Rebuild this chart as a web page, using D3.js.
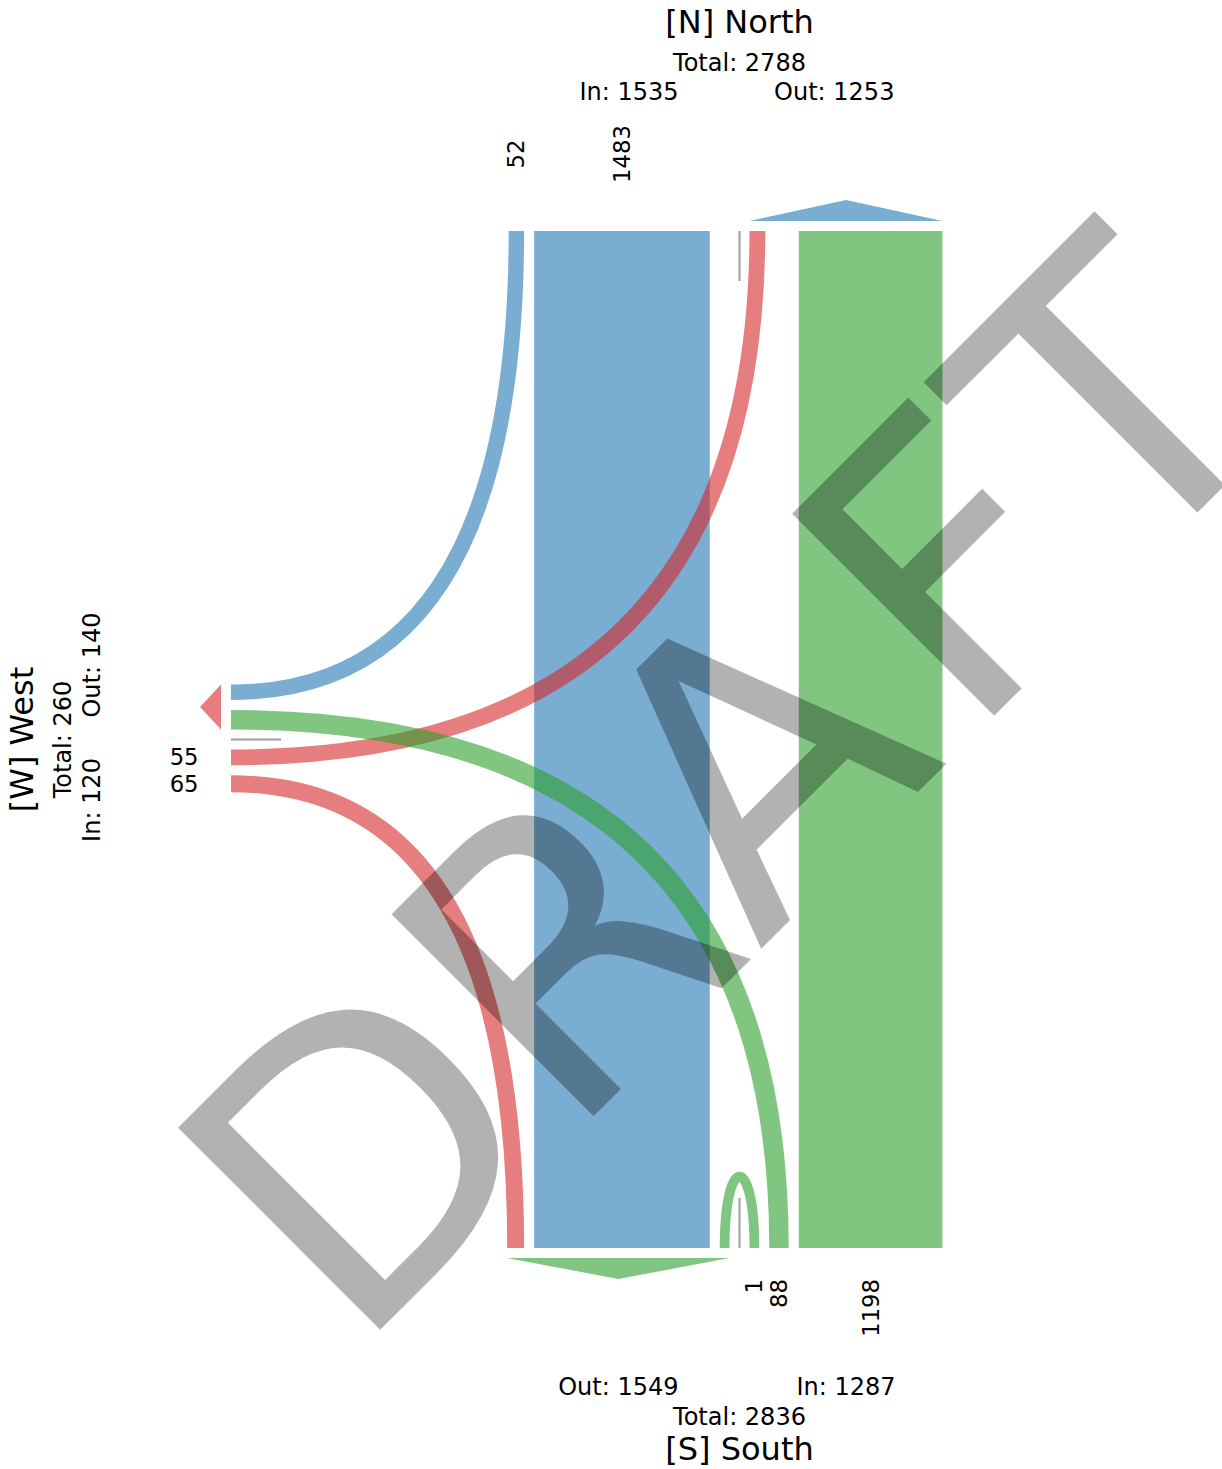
<!DOCTYPE html>
<html>
<head>
<meta charset="utf-8">
<script src="https://cdn.jsdelivr.net/npm/d3@7"></script>
<style>
  html, body { margin: 0; padding: 0; background: #fff; }
  svg { display: block; font-family: "DejaVu Sans", sans-serif; }
  .watermark { font-kerning: none; }
</style>
</head>
<body>
<svg id="chart" width="1222" height="1469"></svg>
<script>
// ---- nodes ----
const nodeCodes  = ["N", "W", "S"];
const nodeNames  = ["North", "West", "South"];
const nodeColors = ["#1f77b4", "#d62728", "#2ca02c"];

// ---- flows (source -> target, value) ----
const flowSource = ["W", "S", "N", "N", "N", "W", "W", "S", "S"];
const flowTarget = ["N", "N", "N", "W", "S", "S", "W", "W", "S"];
const flowValue  = [52, 1483, 0, 55, 1198, 88, 0, 65, 1];

// ---- geometry ----
const svg = d3.select("#chart");
const ring = ["N", "E", "S", "W"];                 // clockwise order of sides
const frame = d3.scaleLinear().domain([0, 1]).range([231, 1248]);
const lo = frame(0), hi = frame(1), mid = frame(0.5);
const gap = 10;
const band = d3.scaleLinear().domain([0, d3.max(flowValue)]).range([9.65, 175.6]);

const sides = {
  N: { axis: "x", edge: lo, out: -1, inDir: -1, outDir: +1 },
  S: { axis: "x", edge: hi, out: +1, inDir: +1, outDir: -1 },
  W: { axis: "y", edge: lo, out: -1, inDir: +1, outDir: -1 }
};
const colorOf = c => nodeColors[nodeCodes.indexOf(c)];
const opposite = (a, b) => (ring.indexOf(a) + 2) % 4 === ring.indexOf(b);

const flows = flowValue.map((v, i) => ({
  id: i, s: flowSource[i], t: flowTarget[i], v, w: band(v)
}));
const active = flows.filter(f => f.v > 0);

// slot order on each half side: self first, then others going round the ring
function rotated(code, step) {
  const k = ring.indexOf(code);
  return d3.range(1, 4).map(j => ring[(k + step * j + 4) % 4]);
}
const inHalf = {}, outHalf = {};
nodeCodes.forEach(n => {
  const inSlots = [n, ...rotated(n, +1)]
    .map(src => active.find(f => f.s === src && f.t === n)).filter(Boolean);
  const outSlots = [n, ...rotated(n, -1)]
    .map(tgt => active.find(f => f.s === n && f.t === tgt)).filter(Boolean);
  inHalf[n]  = { node: n, dir: sides[n].inDir,  slots: inSlots };
  outHalf[n] = { node: n, dir: sides[n].outDir, slots: outSlots };
});
const halves = nodeCodes.flatMap(n => [inHalf[n], outHalf[n]]);

function pack(half, minOff) {
  let c = gap;
  half.pos = new Map();
  half.slots.forEach(f => {
    const st = Math.max(c, minOff.get(f.id) || 0);
    half.pos.set(f.id, [st, st + f.w]);
    c = st + f.w + gap;
  });
}
const toRange = (half, id) => {
  const [a, b] = half.pos.get(id);
  const c1 = mid + half.dir * a, c2 = mid + half.dir * b;
  return [Math.min(c1, c2), Math.max(c1, c2)];
};
const extent = half => {
  const r = half.slots.map(f => toRange(half, f.id)).flat();
  return [d3.min(r), d3.max(r)];
};

// natural packing, used for the In / Out captions
const minOff = new Map();
halves.forEach(h => pack(h, minOff));
const naturalExt = new Map(halves.map(h => [h, extent(h)]));

// straight-across flows keep the same coordinate at both ends
for (let k = 0; k < 4; k++) {
  active.forEach(f => {
    if (f.s !== f.t && opposite(f.s, f.t)) {
      const a = outHalf[f.s].pos.get(f.id)[0], b = inHalf[f.t].pos.get(f.id)[0];
      minOff.set(f.id, Math.max(a, b));
    }
  });
  halves.forEach(h => pack(h, minOff));
}

const pt = (code, c) => sides[code].axis === "x" ? [c, sides[code].edge] : [sides[code].edge, c];

// ---- ribbons ----
function ribbonPath(f) {
  const ra = toRange(outHalf[f.s], f.id), rb = toRange(inHalf[f.t], f.id);
  const A = sides[f.s], B = sides[f.t];
  const p = d3.path();
  if (opposite(f.s, f.t)) {
    const ya = A.edge, yb = B.edge, ym = (ya + yb) / 2;
    p.moveTo(ra[0], ya);
    p.bezierCurveTo(ra[0], ym, rb[0], ym, rb[0], yb);
    p.lineTo(rb[1], yb);
    p.bezierCurveTo(rb[1], ym, ra[1], ym, ra[1], ya);
    p.closePath();
    return p.toString();
  }
  const hSide = A.axis === "x" ? f.s : f.t, vSide = A.axis === "x" ? f.t : f.s;
  const hr = hSide === f.s ? ra : rb, vr = vSide === f.s ? ra : rb;
  const corner = [sides[vSide].edge, sides[hSide].edge];
  const hs = hr.slice().sort((a, b) => Math.abs(a - corner[0]) - Math.abs(b - corner[0]));
  const vs = vr.slice().sort((a, b) => Math.abs(a - corner[1]) - Math.abs(b - corner[1]));
  const H = sides[hSide].edge, V = sides[vSide].edge;
  p.moveTo(hs[0], H);
  p.quadraticCurveTo(hs[0], vs[0], V, vs[0]);
  p.lineTo(V, vs[1]);
  p.quadraticCurveTo(hs[1], vs[1], hs[1], H);
  p.closePath();
  return p.toString();
}

const flowLayer = svg.append("g");
const straight = active.filter(f => f.s !== f.t && opposite(f.s, f.t));
const curved = active.filter(f => f.s !== f.t && !opposite(f.s, f.t));
flowLayer.selectAll("path.band")
  .data(straight.concat(curved))
  .join("path")
  .attr("class", "band")
  .attr("d", ribbonPath)
  .attr("fill", f => colorOf(f.t))
  .attr("fill-opacity", 0.6);

// self loops
const loopDepth = 95;
flowLayer.selectAll("path.loop")
  .data(active.filter(f => f.s === f.t))
  .join("path")
  .attr("class", "loop")
  .attr("d", f => {
    const a = d3.mean(toRange(outHalf[f.s], f.id)), b = d3.mean(toRange(inHalf[f.t], f.id));
    const S = sides[f.s], inward = -S.out;
    const p = d3.path();
    if (S.axis === "x") {
      p.moveTo(a, S.edge);
      p.bezierCurveTo(a, S.edge + inward * loopDepth, b, S.edge + inward * loopDepth, b, S.edge);
    } else {
      p.moveTo(S.edge, a);
      p.bezierCurveTo(S.edge + inward * loopDepth, a, S.edge + inward * loopDepth, b, S.edge, b);
    }
    return p.toString();
  })
  .attr("fill", "none")
  .attr("stroke", f => colorOf(f.t))
  .attr("stroke-opacity", 0.6)
  .attr("stroke-width", f => f.w);

// centre ticks of each side
const tickLen = 50;
svg.append("g").selectAll("line")
  .data(nodeCodes)
  .join("line")
  .each(function (n) {
    const S = sides[n], p0 = pt(n, mid);
    const p1 = S.axis === "x" ? [mid, S.edge - S.out * tickLen] : [S.edge - S.out * tickLen, mid];
    d3.select(this).attr("x1", p0[0]).attr("y1", p0[1]).attr("x2", p1[0]).attr("y2", p1[1]);
  })
  .attr("stroke", "#9c9c9c")
  .attr("stroke-width", 2);

// outgoing arrows
const arrowH = 21;
svg.append("g").selectAll("path")
  .data(nodeCodes)
  .join("path")
  .attr("d", n => {
    const S = sides[n], [e0, e1] = extent(outHalf[n]);
    const base = S.edge + S.out * gap, tip = S.edge + S.out * (gap + arrowH);
    const pts = S.axis === "x"
      ? [[e0, base], [e1, base], [(e0 + e1) / 2, tip]]
      : [[base, e0], [base, e1], [tip, (e0 + e1) / 2]];
    return d3.line()(pts) + "Z";
  })
  .attr("fill", n => colorOf(n))
  .attr("fill-opacity", 0.6);

// ---- flow value labels (incoming flows) ----
const valueLayer = svg.append("g").attr("font-size", 22.7).attr("fill", "#000");
nodeCodes.forEach(n => {
  const half = inHalf[n], S = sides[n];
  half.slots.forEach(f => {
    const c = d3.mean(toRange(half, f.id));
    const t = valueLayer.append("text").text(f.v).attr("dominant-baseline", "central");
    if (n === "N") {
      t.attr("transform", `translate(${c},${S.edge - 77}) rotate(-90)`).attr("text-anchor", "middle");
    } else if (n === "S") {
      t.attr("transform", `translate(${c},${S.edge + 31}) rotate(-90)`).attr("text-anchor", "end");
    } else {
      t.attr("x", S.edge - 32.5).attr("y", c).attr("text-anchor", "end");
    }
  });
});

// ---- node captions ----
const capLayer = svg.append("g").attr("fill", "#000").attr("text-anchor", "middle");
nodeCodes.forEach((n, i) => {
  const inTot = d3.sum(flows.filter(f => f.t === n), f => f.v);
  const outTot = d3.sum(flows.filter(f => f.s === n), f => f.v);
  const inC = d3.mean(naturalExt.get(inHalf[n])), outC = d3.mean(naturalExt.get(outHalf[n]));
  const lines = [
    { txt: `[${n}] ${nodeNames[i]}`, size: 32, key: "title", c: mid },
    { txt: `Total: ${inTot + outTot}`, size: 24, key: "total", c: mid },
    { txt: `In: ${inTot}`, size: 24, key: "io", c: inC },
    { txt: `Out: ${outTot}`, size: 24, key: "io", c: outC }
  ];
  const base = {
    N: { title: 33.3, total: 70.7, io: 100 },
    S: { title: 1459.5, total: 1425, io: 1395 },
    W: { title: 33.3, total: 70.7, io: 100 }
  }[n];
  if (n === "W") { lines[2].c = mid + 60.5; lines[3].c = mid - 74.5; }
  lines.forEach(l => {
    const t = capLayer.append("text").text(l.txt).attr("font-size", l.size);
    if (sides[n].axis === "x") t.attr("x", l.c).attr("y", base[l.key]);
    else t.attr("transform", `translate(${base[l.key]},${l.c}) rotate(-90)`);
  });
});

// ---- watermark ----
const mark = svg.append("text")
  .attr("class", "watermark")
  .attr("transform", "translate(353,1357) rotate(-45)")
  .attr("font-size", 392)
  .attr("fill", "#000")
  .attr("fill-opacity", 0.3);
mark.append("tspan").text("DRA");
mark.append("tspan").attr("dx", 26).text("FT");
</script>
</body>
</html>
